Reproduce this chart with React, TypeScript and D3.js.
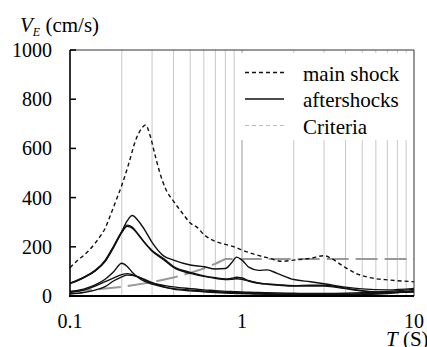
import React from "react";
import * as d3 from "d3";

// period axis ticks / grid
const xTickValues = [0.1, 1, 10];
const gridPeriods = [0.2, 0.3, 0.4, 0.5, 0.6, 0.7, 0.8, 0.9, 1, 2, 3, 4, 5, 6, 7, 8, 9];
const yTickValues = [0, 200, 400, 600, 800, 1000];

// main shock (dashed)
const mainShockPeriods = [0.1, 0.11, 0.12, 0.13, 0.14, 0.15, 0.16, 0.17, 0.18, 0.19, 0.2, 0.22, 0.24, 0.26, 0.275, 0.29, 0.31, 0.33, 0.36, 0.4, 0.45, 0.5, 0.55, 0.6, 0.7, 0.8, 0.9, 1.0, 1.2, 1.45, 1.7, 2.0, 2.5, 3.0, 3.3, 3.9, 4.6, 5.8, 7.2, 10];
const mainShockValues = [115, 143, 165, 188, 215, 243, 275, 320, 365, 408, 450, 540, 630, 680, 695, 660, 582, 510, 435, 385, 337, 297, 278, 250, 222, 210, 200, 187, 168, 153, 141, 146, 153, 164, 153, 120, 92, 72, 65, 58];

// aftershocks (solid)
const aftershockPeriods = [0.1, 0.12, 0.14, 0.16, 0.18, 0.2, 0.215, 0.23, 0.25, 0.27, 0.3, 0.35, 0.4, 0.5, 0.6, 0.7, 0.8, 0.87, 0.93, 1.0, 1.1, 1.25, 1.4, 1.6, 2, 2.5, 3, 4, 5, 7, 10];
const aftershock1 = [52, 76, 102, 140, 200, 262, 305, 327, 305, 272, 218, 163, 146, 126, 119, 110, 112, 135, 158, 146, 116, 104, 106, 92, 67, 58, 50, 36, 29, 25, 31];
const aftershock2 = [52, 76, 104, 145, 205, 262, 288, 280, 250, 220, 185, 152, 120, 96, 82, 74, 69, 72, 76, 73, 62, 53, 49, 46, 42, 44, 44, 32, 22, 15, 18];
const aftershock3 = [50, 74, 102, 143, 202, 258, 283, 276, 248, 218, 182, 148, 116, 92, 80, 72, 67, 68, 70, 68, 60, 52, 48, 45, 40, 40, 40, 30, 20, 14, 16];
const aftershock4 = [18, 28, 45, 68, 100, 133, 120, 97, 74, 60, 48, 36, 30, 24, 20, 17, 15, 14, 13, 12, 11, 10, 9, 8, 7, 6, 6, 7, 9, 13, 20];
const aftershock5 = [14, 24, 40, 58, 74, 87, 91, 87, 78, 66, 53, 43, 37, 30, 25, 22, 19, 18, 17, 16, 15, 14, 13, 12, 11, 10, 10, 11, 13, 18, 27];
const aftershock6 = [8, 14, 24, 38, 62, 78, 85, 84, 77, 68, 54, 38, 28, 21, 17, 14, 12, 11, 10, 10, 9, 8, 7, 6, 5, 4, 4, 5, 6, 10, 22];

// criteria (grey long dash)
const criteriaPeriods = [0.1, 0.15, 0.2, 0.3, 0.4, 0.5, 0.6, 0.7, 0.8, 10];
const criteriaValues = [18, 28, 37, 56, 75, 94, 112, 131, 150, 150];

const legendLabels = ["main shock", "aftershocks", "Criteria"];

const left = 70, right = 414, top = 50, bottom = 296;
const x = d3.scaleLog().domain([0.1, 10]).range([left, right]);
const y = d3.scaleLinear().domain([0, 1000]).range([bottom, top]);

const pairs = (ts: number[], vs: number[]) => ts.map((t, i) => [t, vs[i]] as [number, number]);
const smooth = d3.line<[number, number]>().x(d => x(d[0])).y(d => y(d[1])).curve(d3.curveMonotoneX);
const straight = d3.line<[number, number]>().x(d => x(d[0])).y(d => y(d[1]));

const legendStyles = [
  { stroke: "#111", width: 1.4, dash: "4,3" },
  { stroke: "#111", width: 1.6, dash: undefined },
  { stroke: "#bbb", width: 1.2, dash: "4,3" }
];

export default function App() {
  return (
    <svg
      width={427}
      height={347}
      fontFamily="Times New Roman"
      fontSize={20}
      fill="#000"
      style={{ position: "absolute", left: 0, top: 0, background: "#fff" }}
    >
      {/* vertical grid */}
      {gridPeriods.map(p => (
        <line key={p} x1={x(p)} x2={x(p)} y1={top} y2={bottom} stroke={p === 1 ? "#999" : "#c8c8c8"} strokeWidth={1} />
      ))}
      {/* legend background hides grid */}
      <rect x={241} y={53} width={right - 242} height={87} fill="#fff" />

      <path d={straight(pairs(criteriaPeriods, criteriaValues)) || ""} fill="none" stroke="#999" strokeWidth={2} strokeDasharray="22,7" />
      {[aftershock1, aftershock2, aftershock3, aftershock4, aftershock5, aftershock6].map((vals, i) => (
        <path key={i} d={smooth(pairs(aftershockPeriods, vals)) || ""} fill="none" stroke="#111" strokeWidth={1.4} />
      ))}
      <path d={smooth(pairs(mainShockPeriods, mainShockValues)) || ""} fill="none" stroke="#111" strokeWidth={1.4} strokeDasharray="4,3" />

      {/* frame */}
      <line x1={left} x2={right} y1={top} y2={top} stroke="#333" strokeWidth={1} />
      <line x1={right} x2={right} y1={top} y2={bottom} stroke="#333" strokeWidth={1} />
      <line x1={left} x2={left} y1={top} y2={bottom + 1} stroke="#000" strokeWidth={1.6} />
      <line x1={left - 1} x2={right} y1={bottom} y2={bottom} stroke="#000" strokeWidth={2} />

      {/* y axis */}
      {yTickValues.map(v => (
        <g key={v}>
          <line x1={left} x2={left + 6} y1={y(v)} y2={y(v)} stroke="#000" strokeWidth={1.5} />
          <text x={52} y={y(v) + 7} textAnchor="end">{d3.format("d")(v)}</text>
        </g>
      ))}
      {/* x axis */}
      {xTickValues.map(v => (
        <text key={v} x={x(v)} y={328} textAnchor="middle">{String(v)}</text>
      ))}

      {/* axis titles */}
      <text x={20} y={32} fontSize={21}>
        <tspan fontStyle="italic">V</tspan>
        <tspan dy={4} fontStyle="italic" fontSize={12}>E</tspan>
        <tspan dy={-4}> (cm/s)</tspan>
      </text>
      <text x={386} y={346} fontSize={21}>
        <tspan fontStyle="italic">T</tspan>
        <tspan> (S)</tspan>
      </text>

      {/* legend */}
      {legendLabels.map((label, i) => {
        const by = 80.5 + i * 26.5;
        const s = legendStyles[i];
        return (
          <g key={label}>
            <line x1={245} x2={284} y1={by - 8} y2={by - 8} stroke={s.stroke} strokeWidth={s.width} strokeDasharray={s.dash} />
            <text x={303} y={by} fontSize={21}>{label}</text>
          </g>
        );
      })}
    </svg>
  );
}
